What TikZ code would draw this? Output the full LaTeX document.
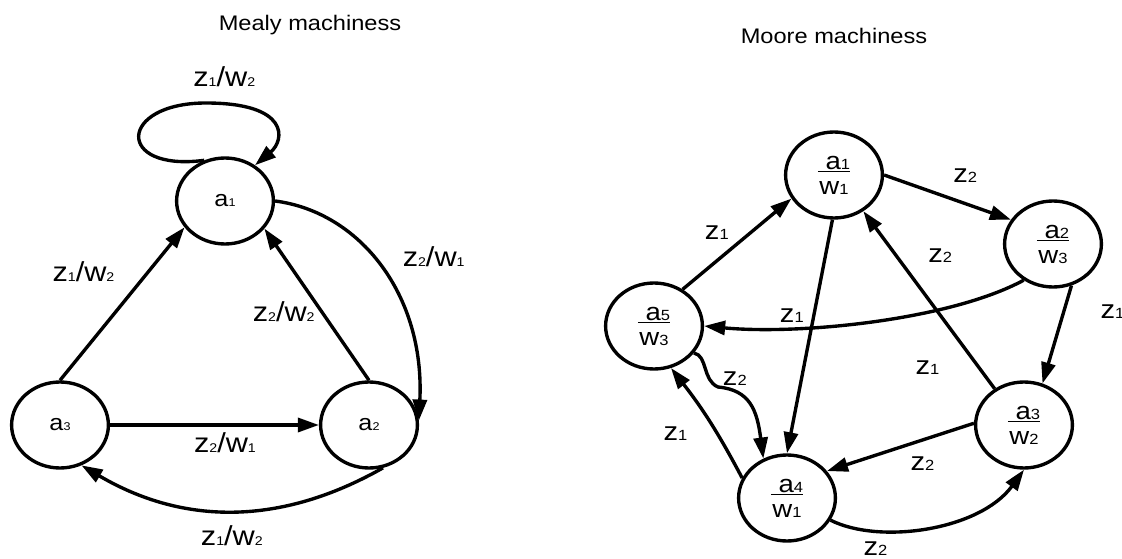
\documentclass[tikz,border=0pt]{standalone}
\usepackage{fontspec}
\setmainfont{Liberation Sans}[FakeStretch=1.12]
\usetikzlibrary{arrows.meta, shapes.geometric}

% small index digit, its size is set by each style
\def\dgsize{8pt}
\newcommand{\dg}[1]{{\fontsize{\dgsize}{\dgsize}\selectfont #1}}

\begin{document}
\begin{tikzpicture}[
    state/.style={ellipse, draw, line width=2.4pt, minimum width=2.42cm, minimum height=2.15cm, inner sep=0pt},
    mealy/.style={state, font=\fontsize{16}{18}\selectfont\def\dgsize{8pt}},
    moore/.style={state, align=center, font=\fontsize{17.5}{17.8}\selectfont\def\dgsize{10.5pt}},
    trans/.style={-{Triangle[length=15pt,width=10pt]}, line width=2.4pt},
    lab/.style={inner sep=1pt, font=\fontsize{19.5}{19.5}\selectfont\def\dgsize{9pt}},
    zlab/.style={inner sep=1pt, font=\fontsize{18.5}{18.5}\selectfont\def\dgsize{10.5pt}},
    title/.style={anchor=base, font=\fontsize{15}{15}\selectfont}
  ]
  \useasboundingbox (0,0) rectangle (28.05,-13.975);

  % Mealy machine
  \node[title] (mealy) at (7.75,-0.775) {Mealy machiness};
  \node[mealy] (s1) at (5.625,-5.025) {a\dg{1}};
  \node[mealy] (s3) at (1.5,-10.625) {a\dg{3}};
  \node[mealy] (s2) at (9.225,-10.625) {a\dg{2}};

  \draw[trans] (s1.117) .. controls (2.875,-4.3) and (2.95,-2.575) .. (5.15,-2.575)
    node[lab, xshift=13pt, yshift=19pt] {z\dg{1}/w\dg{2}}
    .. controls (7.25,-2.575) and (7.125,-3.5) .. (s1.50);
  \draw[trans] (s3.north) -- node[lab, pos=0.71, left=22pt] {z\dg{1}/w\dg{2}} (s1.213);
  \draw[trans] (s2.north) -- node[lab, pos=0.45, left=3pt] {z\dg{2}/w\dg{2}} (s1.325);
  \draw[trans] (s1.east) .. controls (9,-5.3) and (10.625,-7.375) ..
    node[lab, pos=0.45, right=19pt] {z\dg{2}/w\dg{1}} (s2.5);
  \draw[trans] (s3.east) -- node[lab, pos=0.55, below=3pt] {z\dg{2}/w\dg{1}} (s2.west);
  \draw[trans] (s2.288) to[bend left=30] node[lab, midway, below=8pt] {z\dg{1}/w\dg{2}} (s3.298);

  % Moore machine
  \node[title] (moore) at (20.85,-1.1) {Moore machiness};
  \node[moore] (q1) at (20.85,-4.375) {\underline{\ a\dg{1}}\\w\dg{1}};
  \node[moore] (q2) at (26.325,-6.1) {\underline{\ a\dg{2}}\\w\dg{3}};
  \node[moore] (q3) at (25.6,-10.625) {\underline{\ a\dg{3}}\\w\dg{2}};
  \node[moore] (q4) at (19.675,-12.45) {\underline{\ a\dg{4}}\\w\dg{1}};
  \node[moore] (q5) at (16.35,-8.15) {\underline{\ a\dg{5}}\\w\dg{3}};

  \draw[trans] (q5.52) -- node[zlab, pos=0.62, left=13pt] {z\dg{1}} (q1.209);
  \draw[trans] (q1.east) -- node[zlab, pos=0.64, above=13pt] {z\dg{2}} (q2.150);
  \draw[trans] (q1.268) -- node[zlab, pos=0.41, left=5pt] {z\dg{1}} (q4.north);
  \draw[trans] (q3.129) -- node[zlab, pos=0.12, left=26pt] {z\dg{1}} (q1.309);
  \draw[trans] (q2.231) .. controls (23.75,-8) and (20,-8.375) ..
    node[zlab, pos=0.3, above=31pt] {z\dg{2}} (q5.east);
  \draw[trans] (q2.294) -- node[zlab, pos=0.27, right=24pt] {z\dg{1}} (q3.66);
  \draw[trans] (q3.178) -- node[zlab, pos=0.35, below=10pt] {z\dg{2}} (q4.34);
  \draw[trans] (q4.333) .. controls (22,-13.625) and (24.5,-13.25) ..
    node[zlab, pos=0.25, below=5pt] {z\dg{2}} (q3.south);
  \draw[trans] (q4.156) to[bend right=5] node[zlab, pos=0.38, left=19pt] {z\dg{1}} (q5.292);
  \draw[trans] (q5.326) .. controls (17.7,-8.9) and (17.55,-9.5) .. (17.95,-9.675)
    node[zlab, xshift=12pt, yshift=6pt] {z\dg{2}}
    .. controls (18.75,-9.75) and (18.925,-10.25) .. (q4.121);
\end{tikzpicture}
\end{document}
